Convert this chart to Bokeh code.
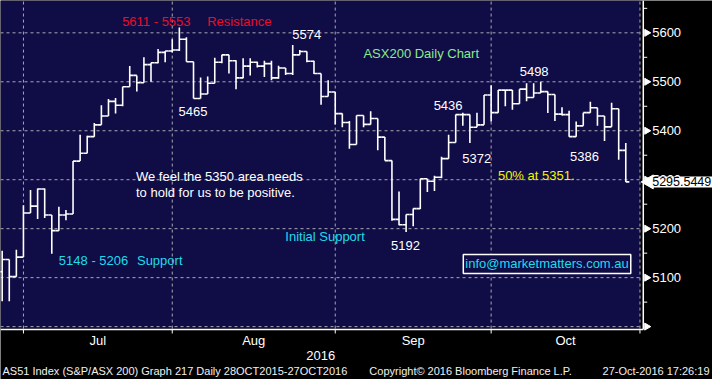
import math
from bokeh.plotting import figure
from bokeh.models import Label, Range1d, ColumnDataSource, BoxAnnotation
from bokeh.embed import file_html
from bokeh.resources import INLINE

# ---------------- data ----------------
months = ["Jul", "Aug", "Sep", "Oct"]
month_starts = [3, 24, 47, 69, 90]          # bar index of first trading day of each month
year_label = "2016"
opens = [5112, 5137, 5102, 5142, 5232, 5246, 5281, 5228, 5196, 5228, 5230, 5338, 5354, 5388, 5412, 5430,
         5460, 5452, 5490, 5513, 5498, 5535, 5539, 5560,
         5563, 5565, 5587, 5541, 5466, 5475, 5497, 5540, 5555, 5543, 5508, 5532, 5540, 5532, 5537, 5508,
         5528, 5517, 5555, 5562, 5542, 5517, 5470,
         5479, 5435, 5417, 5372, 5431, 5413, 5425, 5387, 5339, 5219, 5208, 5229, 5241, 5302, 5297, 5305,
         5343, 5376, 5433, 5433, 5407, 5412,
         5473, 5437, 5483, 5483, 5455, 5485, 5468, 5477, 5480, 5474, 5434, 5433, 5388, 5410, 5437, 5447,
         5430, 5408, 5445, 5360]
highs = [5155, 5137, 5157, 5248, 5279, 5282, 5282, 5228, 5245, 5238, 5338, 5392, 5390, 5416, 5452, 5465,
         5467, 5490, 5532, 5513, 5550, 5539, 5567, 5563,
         5587, 5611, 5591, 5541, 5509, 5511, 5549, 5555, 5555, 5544, 5548, 5548, 5541, 5543, 5543, 5533,
         5528, 5575, 5565, 5562, 5543, 5517, 5503,
         5479, 5435, 5420, 5431, 5431, 5440, 5425, 5387, 5339, 5276, 5229, 5241, 5302, 5302, 5308, 5347,
         5392, 5433, 5437, 5433, 5437, 5473,
         5493, 5483, 5483, 5483, 5485, 5497, 5497, 5500, 5480, 5474, 5448, 5441, 5419, 5437, 5459, 5447,
         5430, 5457, 5445, 5375]
lows = [5052, 5052, 5102, 5142, 5232, 5220, 5222, 5149, 5196, 5217, 5230, 5338, 5354, 5388, 5412, 5430,
        5435, 5450, 5490, 5480, 5498, 5500, 5538, 5540,
        5560, 5563, 5541, 5466, 5466, 5475, 5497, 5538, 5517, 5485, 5507, 5513, 5529, 5510, 5503, 5506,
        5514, 5514, 5555, 5540, 5516, 5453, 5470,
        5413, 5407, 5363, 5372, 5407, 5413, 5360, 5339, 5216, 5207, 5193, 5205, 5240, 5275, 5277, 5303,
        5343, 5376, 5410, 5375, 5407, 5412,
        5419, 5437, 5450, 5443, 5455, 5460, 5468, 5477, 5436, 5420, 5431, 5388, 5388, 5410, 5437, 5410,
        5379, 5408, 5341, 5295.5449]
closes = [5137, 5102, 5142, 5232, 5246, 5281, 5228, 5196, 5228, 5230, 5338, 5354, 5388, 5412, 5430, 5460,
          5452, 5490, 5513, 5498, 5535, 5539, 5560, 5563,
          5565, 5587, 5541, 5466, 5475, 5497, 5540, 5555, 5543, 5508, 5532, 5540, 5532, 5537, 5508, 5528,
          5517, 5555, 5562, 5542, 5517, 5470, 5479,
          5435, 5417, 5372, 5431, 5413, 5425, 5387, 5339, 5219, 5208, 5229, 5241, 5302, 5297, 5305, 5343,
          5376, 5433, 5433, 5407, 5412, 5473,
          5437, 5483, 5483, 5455, 5485, 5468, 5477, 5480, 5474, 5434, 5433, 5388, 5410, 5437, 5447, 5430,
          5408, 5445, 5360, 5295.5449]
price_ticks = [5000, 5100, 5200, 5300, 5400, 5500, 5600]
price_minor = [5050, 5150, 5250, 5350, 5450, 5550, 5650]
labelled_ticks = [5100, 5200, 5300, 5400, 5500, 5600]

note_texts = ["5611 - 5553", "Resistance", "5574", "5465", "ASX200 Daily Chart", "5498", "5436",
              "We feel the 5350 area needs", "to hold for us to be positive.", "5372", "5386",
              "50% at 5351.", "Initial Support", "5192", "5148 - 5206", "Support"]
email = "info@marketmatters.com.au"
footer_left = "AS51 Index (S&P/ASX 200) Graph 217  Daily 28OCT2015-27OCT2016"
footer_mid = "Copyright\u00a9 2016 Bloomberg Finance L.P."
footer_right = "27-Oct-2016 17:26:19"

# ---------------- layout & style ----------------
NAVY = "#100c46"
GRID = "#a8a8b0"
FONT = "Liberation Sans"
RED, WHITE, GREEN, YELLOW, CYAN = "#e6102a", "#ffffff", "#8de88d", "#f4f400", "#1cdcec"
note_pos = [(123, 21, RED), (209, 21, RED), (295, 35, WHITE), (180, 113, WHITE), (367, 54, GREEN),
            (525, 73, WHITE), (438, 107, WHITE), (137, 180, WHITE), (137, 196, WHITE),
            (467, 161, WHITE), (576, 159, WHITE), (503, 179, YELLOW), (288, 241, CYAN),
            (395, 250, WHITE), (59, 265, CYAN), (138, 265, CYAN)]
W, H = 712, 379


def rx(ref_x):          # reference-picture pixel -> bar index
    return (ref_x - 1.7) / 7.166


def ry(ref_y):          # reference-picture pixel -> price
    return 5600 - (ref_y - 33) * 2


X0, X1 = rx(0), rx(720)
Y0, Y1 = ry(387), ry(0)
PLOT_R = rx(647)
PLOT_B = ry(335)
AXIS_X = rx(650)
AXIS_Y = ry(336)

p = figure(width=W, height=H, x_range=Range1d(X0, X1), y_range=Range1d(Y0, Y1),
           x_axis_type=None, y_axis_type=None, output_backend="svg", toolbar_location=None,
           background_fill_color="black", border_fill_color="black", outline_line_color=None,
           min_border=0)
p.xgrid.visible = False
p.ygrid.visible = False

# plot area
p.add_layout(BoxAnnotation(left=X0, right=PLOT_R, bottom=PLOT_B, top=Y1, fill_color=NAVY,
                           fill_alpha=1, line_alpha=0, level="underlay"))

# dashed grid
p.segment(x0=month_starts, x1=month_starts, y0=[PLOT_B] * len(month_starts), y1=[Y1] * len(month_starts),
          line_color=GRID, line_dash="3 3", line_width=1)
p.segment(x0=[X0] * len(price_ticks), x1=[PLOT_R] * len(price_ticks), y0=price_ticks, y1=price_ticks,
          line_color=GRID, line_dash="3 3", line_width=1)

# right price axis
p.segment(x0=[AXIS_X], x1=[AXIS_X], y0=[AXIS_Y], y1=[Y1], line_color="white", line_width=1.5)
p.scatter(x=[rx(653.5)] * len(price_ticks), y=price_ticks, marker="triangle", size=7,
          angle=-math.pi / 2, fill_color="white", line_color="white")
p.segment(x0=[AXIS_X] * len(price_minor), x1=[rx(654)] * len(price_minor), y0=price_minor, y1=price_minor,
          line_color="white", line_width=1)
for t in labelled_ticks:
    p.add_layout(Label(x=rx(659), y=t, text=str(t), text_color="white", text_font=FONT,
                       text_font_size="13px", text_baseline="middle", text_align="left"))

# bottom time axis
p.segment(x0=[X0], x1=[AXIS_X], y0=[AXIS_Y], y1=[AXIS_Y], line_color="white", line_width=1.5)
p.segment(x0=month_starts, x1=month_starts, y0=[AXIS_Y] * len(month_starts),
          y1=[ry(340)] * len(month_starts), line_color="white", line_width=1)
for i, m in enumerate(months):
    mid = (month_starts[i] + month_starts[i + 1]) / 2
    p.add_layout(Label(x=mid, y=ry(347), text=m, text_color="white", text_font=FONT,
                       text_font_size="13px", text_baseline="middle", text_align="center"))
p.add_layout(Label(x=month_starts[2], y=ry(362), text=year_label, text_color="white", text_font=FONT,
                   text_font_size="13px", text_baseline="middle", text_align="right"))

# OHLC bars
idx = list(range(len(closes)))
src = ColumnDataSource(dict(
    x=idx, xl=[i - 0.5 for i in idx], xr=[i + 0.5 for i in idx],
    o=opens, h=highs, l=lows, c=closes))
p.segment(x0="x", y0="l", x1="x", y1="h", source=src, line_color="white", line_width=1.6)
p.segment(x0="xl", y0="o", x1="x", y1="o", source=src, line_color="white", line_width=1.6)
p.segment(x0="x", y0="c", x1="xr", y1="c", source=src, line_color="white", line_width=1.6)

# in-plot annotations
for txt, (lx, cy, col) in zip(note_texts, note_pos):
    p.add_layout(Label(x=rx(lx), y=ry(cy), text=txt, text_color=col, text_font=FONT,
                       text_font_size="13px", text_baseline="middle", text_align="left"))

p.add_layout(Label(x=rx(468), y=ry(269), text=email, text_color=CYAN, text_font=FONT,
                   text_font_size="13px", text_baseline="middle", text_align="left",
                   border_line_color="white", border_line_width=1.5,
                   background_fill_color=NAVY, padding=2))

# footer
for txt, xx, al in [(footer_left, rx(2), "left"), (footer_mid, rx(373), "left"),
                    (footer_right, rx(717), "right")]:
    p.add_layout(Label(x=xx, y=ry(378), text=txt, text_color="#f0f0f0", text_font=FONT,
                       text_font_size="11px", text_baseline="middle", text_align=al))

# last price tag
last = closes[-1]
p.scatter(x=[rx(656)], y=[last], marker="triangle", size=14, angle=math.pi / 2,
          fill_color="white", line_color="white")
p.add_layout(Label(x=rx(658), y=last, text=f"{last:.4f}", text_color="black", text_font=FONT,
                   text_font_size="12.5px", text_baseline="middle", text_align="left",
                   background_fill_color="white", padding=1))

open("out.html", "w").write(file_html(p, INLINE))
